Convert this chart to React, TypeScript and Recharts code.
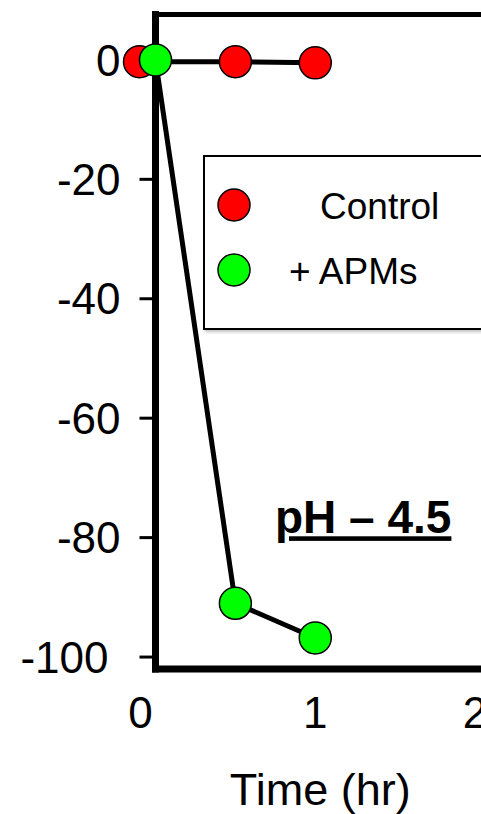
import { LineChart, Line, XAxis, YAxis, Legend, ReferenceLine, ReferenceDot } from "recharts";

// acid release vs time
const CONTROL_TIME = [-0.1, 0.5, 1];
const CONTROL_VALUE = [-0.3, -0.3, -0.5];
const APMS_TIME = [0, 0.5, 1];
const APMS_VALUE = [0, -91, -96.8];

const SERIES_NAMES = ["Control", "+ APMs"];
const SERIES_COLORS = ["#ff0000", "#00ff00"];

const X_TICKS = [0, 1, 2];
const Y_TICKS = [0, -20, -40, -60, -80, -100];
const X_DOMAIN: [number, number] = [0, 2.2];
const Y_DOMAIN: [number, number] = [-102, 7.6];

const ANNOTATION = "pH – 4.5";
const ANNOTATION_AT = { t: 1.3, v: -76.5 };

const FONT = "'Liberation Sans', Arial, sans-serif";

const controlData = CONTROL_TIME.map((t, i) => ({ t, v: CONTROL_VALUE[i] }));
const apmsData = APMS_TIME.map((t, i) => ({ t, v: APMS_VALUE[i] }));

function XTick(props: any) {
  const { x, y, payload } = props;
  // the "0" label sits a little left of the axis in the original
  const dx = payload.value === 0 ? -15 : 0;
  return (
    <text x={x + dx} y={y} dy="0.71em" textAnchor="middle" fontSize={44} fontFamily={FONT} fill="#000">
      {payload.value}
    </text>
  );
}

function YTick(props: any) {
  const { x, y, payload } = props;
  // "-100" is nudged left in the original
  const dx = payload.value === -100 ? -12 : 0;
  return (
    <text x={x + dx} y={y} dy="0.355em" textAnchor="end" fontSize={44} fontFamily={FONT} fill="#000">
      {payload.value}
    </text>
  );
}

function LegendBox() {
  const rows = [
    { cy: 48, tx: 115, ty: 62 },
    { cy: 113, tx: 84, ty: 127 },
  ];
  return (
    <div
      style={{
        width: 310,
        height: 175,
        border: "2px solid #000",
        boxSizing: "border-box",
        background: "#fff",
        boxShadow: "2px 2px 3px rgba(0,0,0,0.25)",
      }}
    >
      <svg width={306} height={171} style={{ display: "block" }}>
        {SERIES_NAMES.map((name, i) => (
          <g key={name}>
            <circle cx={29} cy={rows[i].cy} r={16} fill={SERIES_COLORS[i]} stroke="#000" strokeWidth={1.5} />
            <text x={rows[i].tx} y={rows[i].ty} fontSize={37} fontFamily={FONT} fill="#000">
              {name}
            </text>
          </g>
        ))}
      </svg>
    </div>
  );
}

function PhLabel(props: any) {
  const { viewBox } = props;
  return (
    <text
      x={viewBox.x}
      y={viewBox.y}
      dy="0.36em"
      textAnchor="middle"
      fontSize={46}
      fontWeight="bold"
      fontFamily={FONT}
      fill="#000"
      textDecoration="underline"
    >
      {ANNOTATION}
    </text>
  );
}

export default function App() {
  const dot = (color: string) => ({ r: 16, fill: color, stroke: "#000", strokeWidth: 1.5, clipDot: false });
  return (
    <div
      style={{
        position: "fixed",
        left: 0,
        top: 0,
        width: 481,
        height: 814,
        overflow: "hidden",
        background: "#fff",
      }}
    >
      {/* the control point before t=0 hangs outside the frame, so don't clip the dots */}
      <style>{`.recharts-line-dots { clip-path: none; }`}</style>
      <LineChart width={520} height={814} margin={{ top: 14.5, right: 13, bottom: 0, left: 0 }}>
        <XAxis
          type="number"
          dataKey="t"
          domain={X_DOMAIN}
          allowDataOverflow
          ticks={X_TICKS}
          height={145}
          tickLine={false}
          tickSize={26}
          tickMargin={2}
          tick={<XTick />}
          axisLine={{ stroke: "#000", strokeWidth: 7, strokeLinecap: "square" }}
          label={{
            value: "Time (hr)",
            position: "insideBottom",
            offset: 9,
            dx: -11,
            fontSize: 45,
            fontFamily: FONT,
            fill: "#000",
          }}
        />
        <YAxis
          type="number"
          domain={Y_DOMAIN}
          allowDataOverflow
          ticks={Y_TICKS}
          width={155.5}
          tickSize={16}
          tickMargin={19}
          tick={<YTick />}
          tickLine={{ stroke: "#000", strokeWidth: 3 }}
          axisLine={{ stroke: "#000", strokeWidth: 7, strokeLinecap: "square" }}
        />
        <ReferenceLine y={Y_DOMAIN[1]} stroke="#000" strokeWidth={5} />
        <ReferenceDot x={ANNOTATION_AT.t} y={ANNOTATION_AT.v} r={0} stroke="none" label={<PhLabel />} />
        <Legend
          layout="vertical"
          align="center"
          verticalAlign="middle"
          content={() => <LegendBox />}
          wrapperStyle={{ position: "absolute", left: 203, top: 155, width: 310, height: 175 }}
        />
        <Line
          data={controlData}
          dataKey="v"
          name={SERIES_NAMES[0]}
          stroke="#000"
          strokeWidth={5}
          dot={dot(SERIES_COLORS[0])}
          activeDot={false}
          isAnimationActive={false}
        />
        <Line
          data={apmsData}
          dataKey="v"
          name={SERIES_NAMES[1]}
          stroke="#000"
          strokeWidth={5}
          dot={dot(SERIES_COLORS[1])}
          activeDot={false}
          isAnimationActive={false}
        />
      </LineChart>
    </div>
  );
}
